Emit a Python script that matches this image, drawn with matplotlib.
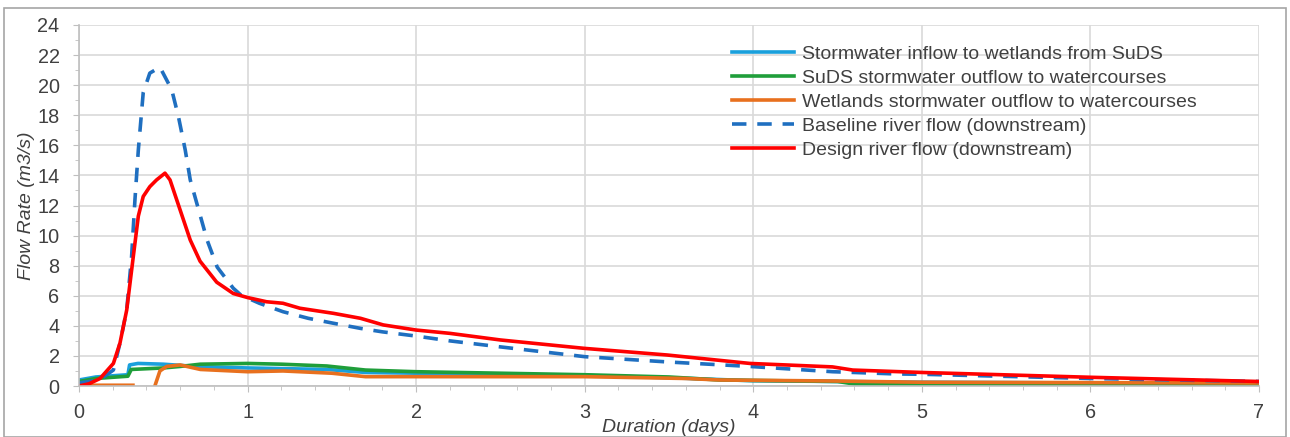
import numpy as np
import matplotlib
matplotlib.use("Agg")
import matplotlib.pyplot as plt
from matplotlib.patches import Rectangle
from matplotlib.ticker import MultipleLocator

plt.rcParams['font.family'] = ['Liberation Sans', 'DejaVu Sans']

# ---- data (days, m3/s) ----
base_x = [0, 0.12, 0.204, 0.243, 0.283, 0.312, 0.332, 0.352, 0.381, 0.42, 0.48, 0.55, 0.59,
          0.63, 0.66, 0.71, 0.76, 0.82, 0.915, 0.96, 1.07, 1.21, 1.36, 1.51, 1.67, 1.8, 2.0,
          2.2, 2.5, 3.0, 3.49, 3.98, 4.47, 4.85, 5.0, 6.0, 7.0]
base_y = [0.2, 0.4, 1.06, 2.85, 5.05, 8.6, 12.4, 15.7, 19.5, 20.8, 21.2, 19.7, 17.9,
          15.7, 13.7, 11.7, 9.7, 7.9, 6.5, 6.05, 5.5, 4.94, 4.5, 4.17, 3.83, 3.6, 3.32,
          3.0, 2.6, 1.95, 1.6, 1.3, 0.95, 0.8, 0.78, 0.5, 0.3]

design_x = [0, 0.06, 0.125, 0.204, 0.243, 0.283, 0.322, 0.352, 0.381, 0.42, 0.46, 0.51, 0.54,
            0.60, 0.66, 0.718, 0.817, 0.915, 1.0, 1.113, 1.21, 1.31, 1.51, 1.67, 1.805, 2.0,
            2.2, 2.5, 3.0, 3.49, 3.98, 4.47, 4.59, 4.87, 5.0, 6.0, 7.0]
design_y = [0.0, 0.15, 0.5, 1.5, 2.85, 5.05, 8.6, 11.3, 12.6, 13.25, 13.7, 14.15, 13.7,
            11.7, 9.7, 8.3, 6.9, 6.15, 5.88, 5.6, 5.5, 5.17, 4.83, 4.5, 4.06, 3.72,
            3.5, 3.06, 2.5, 2.06, 1.5, 1.27, 1.06, 0.95, 0.9, 0.58, 0.3]

inflow_x = [0, 0.1, 0.29, 0.3, 0.35, 0.5, 0.72, 1.0, 1.47, 1.7, 2.0, 3.0, 3.5, 4.0, 5.0, 7.0]
inflow_y = [0.4, 0.6, 0.75, 1.4, 1.5, 1.45, 1.28, 1.2, 1.1, 0.9, 0.85, 0.7, 0.55, 0.35, 0.25, 0.15]

suds_x = [0, 0.1, 0.29, 0.31, 0.5, 0.6, 0.72, 1.0, 1.2, 1.47, 1.7, 2.0, 3.0, 3.5, 3.8, 4.5,
          4.6, 7.0]
suds_y = [0.3, 0.5, 0.65, 1.1, 1.2, 1.3, 1.45, 1.5, 1.45, 1.33, 1.06, 0.95, 0.75, 0.6, 0.4,
          0.3, 0.13, 0.07]

wet_x = [0, 0.32, 0.33, 0.44, 0.45, 0.48, 0.52, 0.6, 0.72, 1.0, 1.21, 1.5, 1.7, 2.0, 3.0,
         3.6, 3.8, 4.5, 5.0, 7.0]
wet_y = [0.05, 0.05, np.nan, np.nan, 0.0, 1.0, 1.3, 1.4, 1.1, 0.95, 1.0, 0.85, 0.62, 0.62,
         0.62, 0.5, 0.4, 0.33, 0.25, 0.2]

labels = ["Stormwater inflow to wetlands from SuDS",
          "SuDS stormwater outflow to watercourses",
          "Wetlands stormwater outflow to watercourses",
          "Baseline river flow (downstream)",
          "Design river flow (downstream)"]

fig = plt.figure(figsize=(12.9, 4.37), dpi=100)
ax = fig.add_axes([79/1290, 1-386/437, (1259-79)/1290, (386-25)/437])

ax.plot(inflow_x, inflow_y, color='#1aa0dc', lw=2.6, label=labels[0])
ax.plot(suds_x, suds_y, color='#1f9e3a', lw=2.6, label=labels[1])
ax.plot(wet_x, wet_y, color='#e8701e', lw=2.6, label=labels[2])
ax.plot(base_x, base_y, color='#1f6fc0', lw=2.6, ls=(0, (4, 3)), label=labels[3])
ax.plot(design_x, design_y, color='#ff0000', lw=2.6, label=labels[4])

ax.set_xlim(0, 7)
ax.set_ylim(0, 24)
ax.xaxis.set_major_locator(MultipleLocator(1))
ax.xaxis.set_minor_locator(MultipleLocator(0.2))
ax.yaxis.set_major_locator(MultipleLocator(2))
ax.yaxis.set_minor_locator(MultipleLocator(1))
ax.grid(True, which='major', color='#d9d9d9', lw=1.2)
ax.set_axisbelow(True)
for s in ['top', 'right']:
    ax.spines[s].set_visible(False)
for s in ['left', 'bottom']:
    ax.spines[s].set_color('#bfbfbf')
    ax.spines[s].set_linewidth(1.2)
ax.tick_params(which='both', colors='#bfbfbf', labelcolor='#404040', labelsize=14.3)
ax.tick_params(which='major', length=4)
ax.tick_params(which='minor', length=3)
ax.tick_params(axis='x', pad=8)
ax.tick_params(axis='y', pad=10)

ax.set_ylabel('Flow Rate (m3/s)', fontsize=14, style='italic', color='#404040', labelpad=2)
ax.set_xlabel('Duration (days)', fontsize=14, style='italic', color='#404040', labelpad=-2)

leg = ax.legend(loc='upper left', bbox_to_anchor=(0.5466, 0.966), frameon=False,
                fontsize=14, handlelength=3.2, handletextpad=0.4, labelspacing=0.33,
                borderaxespad=0)
for t in leg.get_texts():
    t.set_color('#404040')

fig.patches.append(Rectangle((4/1290, 0), 1282/1290, 1-8/437, transform=fig.transFigure,
                             fill=False, edgecolor='#a6a6a6', lw=1.2))

fig.savefig('out.png', dpi=100)
